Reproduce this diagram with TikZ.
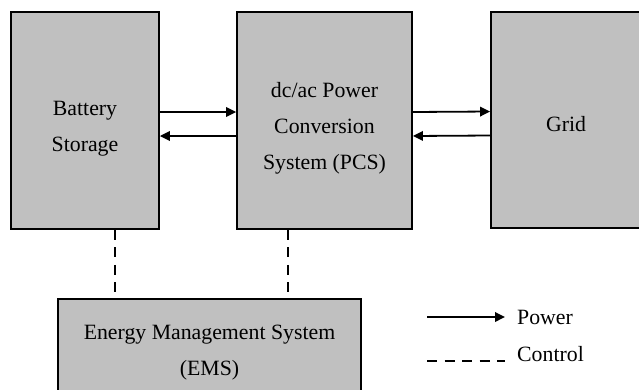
\documentclass[tikz,border=0pt]{standalone}
\usepackage{fontspec}
\setmainfont{Liberation Serif}
\usepackage{xcolor}
\definecolor{boxgray}{RGB}{192,192,192}
\usetikzlibrary{arrows.meta, positioning, calc}

\begin{document}
\begin{tikzpicture}[
  x=1pt, y=-1pt,
  block/.style={draw, line width=1.8pt, fill=boxgray, inner sep=0pt},
  block text/.style={align=center, inner sep=0pt, font=\fontsize{21.8}{36}\selectfont},
  legend text/.style={inner sep=0pt, font=\fontsize{21.8}{36}\selectfont},
  arr/.style={-{Triangle[length=10pt, width=9.5pt]}, line width=1.8pt},
  ctrl/.style={line width=1.8pt, dash pattern=on 10pt off 7.5pt},
]
\useasboundingbox (0,0) rectangle (639,389);
\clip (0,0) rectangle (639,389);

% ブロック
\node[block, minimum width=148pt, minimum height=217pt] (battery) at (85,120.5) {};
\node[block, minimum width=175pt, minimum height=217pt] (pcs) at (324.5,120.5) {};
\node[block, minimum width=150pt, minimum height=216pt] (grid) at (566,120) {};
\node[block, minimum width=303pt, minimum height=102pt] (ems) at (209.5,350) {};

% ブロックの文字
\node[block text] (batterytext) at (85,129) {Battery\\Storage};
\node[block text] (pcstext) at (324.5,128.5) {dc/ac Power\\Conversion\\System (PCS)};
\node[block text] (gridtext) at (566,124) {Grid};
\node[block text] (emstext) at (209.5,353) {Energy Management System\\(EMS)};

% 電力の流れ
\draw[arr] ([yshift=8.5pt]battery.east) -- ([yshift=8.5pt]pcs.west);
\draw[arr] ([yshift=-15.5pt]pcs.west) -- ([yshift=-15.5pt]battery.east);
\draw[arr] ([yshift=8.5pt]pcs.east) -- ([yshift=8.5pt]grid.west);
\draw[arr] ([yshift=-15.5pt]grid.west) -- ([yshift=-15.5pt]pcs.east);

% 制御線
\coordinate (batteryctrl) at ([xshift=30pt]battery.south);
\coordinate (pcsctrl) at ([xshift=-36.5pt]pcs.south);
\draw[ctrl, shorten >=5pt] (batteryctrl) -- (batteryctrl |- ems.north);
\draw[ctrl, shorten >=5pt] (pcsctrl) -- (pcsctrl |- ems.north);

% 凡例
\node[legend text, anchor=west] (power) at (517,317) {Power};
\node[legend text, anchor=base west] (control) at (517,361) {Control};
\coordinate (powerstart) at (427,317);
\coordinate (controlstart) at (427,361);
\draw[arr] (powerstart) -- ([xshift=-12pt]power.west);
\draw[ctrl] (controlstart) -- ([xshift=-12pt]control.base west);

\end{tikzpicture}
\end{document}
